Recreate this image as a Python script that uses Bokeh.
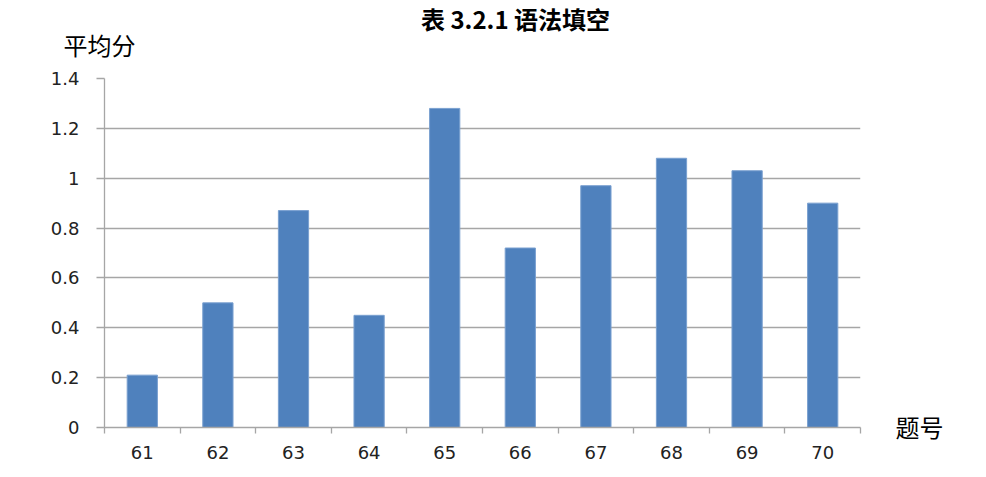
from bokeh.plotting import figure
from bokeh.models import (ColumnDataSource, Range1d, FixedTicker, LinearAxis,
                          NumeralTickFormatter, Label, LabelSet, BoxAnnotation)
from bokeh.embed import file_html
from bokeh.resources import INLINE

# ---- data ----
categories = ["61", "62", "63", "64", "65", "66", "67", "68", "69", "70"]
values = [0.21, 0.50, 0.87, 0.45, 1.28, 0.72, 0.97, 1.08, 1.03, 0.90]
y_ticks = [0, 0.2, 0.4, 0.6, 0.8, 1.0, 1.2, 1.4]
title_text = "表 3.2.1 语法填空"
y_title = "平均分"
x_title = "题号"

n = len(categories)
xpos = [i + 0.5 for i in range(n)]
source = ColumnDataSource(dict(x=xpos, top=values, cat=categories))

p = figure(width=986, height=477, output_backend="svg", toolbar_location=None,
           x_range=Range1d(0, n), y_range=Range1d(0, 1.4),
           x_axis_location=None, y_axis_location=None,
           min_border_left=104, min_border_right=126,
           min_border_top=78, min_border_bottom=50)
p.outline_line_color = None
p.background_fill_color = "white"
p.border_fill_color = "white"

# grid
p.xgrid.visible = False
p.ygrid.ticker = FixedTicker(ticks=y_ticks)
p.ygrid.grid_line_color = "#a6a6a6"
p.ygrid.grid_line_width = 1.3

# bars
p.vbar(x="x", top="top", width=0.4, bottom=0, source=source,
       fill_color="#4f81bd", line_color="#7aa0d0", line_width=1)

# y axis
yaxis = LinearAxis(ticker=FixedTicker(ticks=y_ticks),
                   formatter=NumeralTickFormatter(format="0.[0]"))
yaxis.axis_line_color = "#a6a6a6"
yaxis.axis_line_width = 1.3
yaxis.major_tick_line_color = "#a6a6a6"
yaxis.major_tick_line_width = 1.3
yaxis.major_tick_out = 8
yaxis.major_tick_in = 0
yaxis.minor_tick_line_color = None
yaxis.major_label_standoff = 17
yaxis.major_label_text_font = "DejaVu Sans"
yaxis.major_label_text_font_size = "18px"
yaxis.major_label_text_color = "#222222"
p.add_layout(yaxis, "left")

# x axis: labels at category centres, tick marks at boundaries
xaxis = LinearAxis(ticker=FixedTicker(ticks=xpos,
                                      minor_ticks=list(range(n + 1))))
xaxis.major_label_overrides = {x: c for x, c in zip(xpos, categories)}
xaxis.axis_line_color = "#a6a6a6"
xaxis.axis_line_width = 1.3
xaxis.major_tick_line_color = None
xaxis.major_tick_out = 0
xaxis.major_tick_in = 0
xaxis.minor_tick_line_color = "#a6a6a6"
xaxis.minor_tick_line_width = 1.3
xaxis.minor_tick_out = 6
xaxis.minor_tick_in = 0
xaxis.major_label_standoff = 12
xaxis.major_label_text_font = "DejaVu Sans"
xaxis.major_label_text_font_size = "18px"
xaxis.major_label_text_color = "#222222"
p.add_layout(xaxis, "below")

cjk = "Noto Sans CJK SC"
# texts placed in side panels (screen units)
p.add_layout(Label(x=411, y=60, x_units="screen", y_units="screen",
                   text=title_text, text_font=cjk, text_font_size="24px",
                   text_align="center", text_baseline="middle",
                   text_color="black", text_font_style="bold"), "above")
p.add_layout(Label(x=-41, y=-1, x_units="screen", y_units="screen",
                   text=y_title, text_font=cjk, text_font_size="24px",
                   text_align="left", text_baseline="middle", text_color="black"), "above")
p.add_layout(Label(x=35, y=1, x_units="screen", y_units="screen",
                   text=x_title, text_font=cjk, text_font_size="24px",
                   text_align="left", text_baseline="middle", text_color="black"), "right")
marks = ColumnDataSource(dict(x=[-48, -48, 36, 520, 842],
                              y=[417, 389, 372, 407, -5],
                              t=["\u21b5"] * 5))
p.add_layout(LabelSet(x="x", y="y", text="t", source=marks,
                      x_units="screen", y_units="screen",
                      text_font="DejaVu Sans", text_font_size="9px",
                      text_align="left", text_baseline="middle",
                      text_color="#888888"), "right")

# text-frame corner brackets at the bottom
for (l, r) in [(-300, -97), (873, 1100)]:
    p.add_layout(BoxAnnotation(left=l, right=r, top=-5, bottom=-200,
                               left_units="screen", right_units="screen",
                               top_units="screen", bottom_units="screen",
                               fill_alpha=0, line_color="#9a9a9a",
                               line_width=1), "right")

open("out.html", "w").write(file_html(p, INLINE))
